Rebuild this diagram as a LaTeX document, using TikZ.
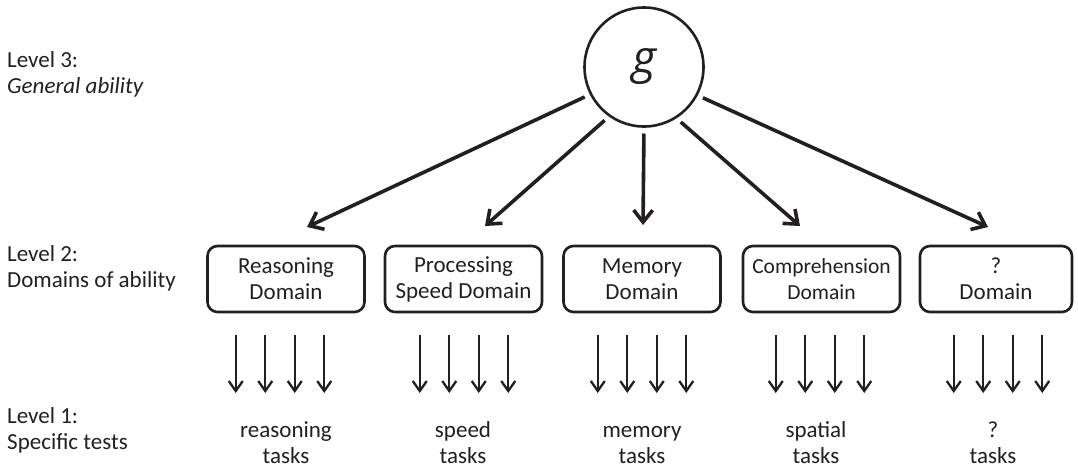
\documentclass[tikz,border=0pt]{standalone}
\usepackage{fontspec}
\setmainfont{Carlito}
\newfontfamily\gfont{Open Sans}
\usetikzlibrary{arrows.meta}
\definecolor{ink}{HTML}{231F20}
\tikzset{
  domainbox/.style={draw=ink, line width=2.6pt, rounded corners=10pt, minimum width=157pt, minimum height=66pt, inner sep=0pt, outer sep=0pt, align=center, text=ink, font=\fontsize{23}{26}\selectfont},
  bigarrow/.style={draw=ink, line width=3.6pt, -{Straight Barb[length=12pt,width=19pt]}, shorten <=7pt},
  smallarrow/.style={draw=ink, line width=2.3pt, -{Straight Barb[length=10pt,width=14pt]}},
  tasklabel/.style={align=center, inner sep=0pt, text=ink, font=\fontsize{23}{26}\selectfont},
  levellabel/.style={align=left, anchor=west, inner sep=0pt, text=ink, font=\fontsize{23}{26}\selectfont},
  gnode/.style={draw=ink, circle, line width=2.6pt, minimum size=119pt, inner sep=0pt, outer sep=0pt, text=ink, font=\fontsize{46}{55}\selectfont\gfont\itshape}
}
\begin{document}
\begin{tikzpicture}[x=1pt,y=-1pt]
\useasboundingbox (0,0) rectangle (1078,469);
% level labels
\node[levellabel] (l3) at (7,74.8) {\strut Level 3:\\\strut\itshape General ability};
\node[levellabel] (l2) at (7,268.8) {\strut Level 2:\\\strut Domains of ability};
\node[levellabel] (l1) at (7,430.8) {\strut Level 1:\\\strut Specific tests};
% g
\node[gnode] (g) at (644,67) {g};
% domain boxes
\node[domainbox] (b1) at (286,279) {Reasoning\\Domain};
\node[domainbox] (b2) at (463.5,279) {Processing\\Speed Domain};
\node[domainbox] (b3) at (642,279) {Memory\\Domain};
\node[domainbox, font=\fontsize{21.5}{26}\selectfont] (b4) at (821.5,279) {Comprehension\\Domain};
\node[domainbox, minimum width=152pt] (b5) at (996,279) {?\\Domain};
% arrow tips above boxes
\coordinate (t1) at (307,227);
\coordinate (t2) at (485,226);
\coordinate (t3) at (643,225);
\coordinate (t4) at (800,226);
\coordinate (t5) at (988,227);
\draw[bigarrow] (g.-153) -- (t1);
\draw[bigarrow] (g.-125) -- (t2);
\draw[bigarrow] (g.-90) -- (t3);
\draw[bigarrow] (g.-58) -- (t4);
\draw[bigarrow] (g.-28) -- (t5);
% small arrows
\foreach \c [count=\gi] in {280,464,642,820,998} {
  \foreach \d [count=\k] in {-44.25,-14.75,14.75,44.25} {
    \coordinate (u\gi\k) at (\c+\d,335);
    \coordinate (v\gi\k) at (\c+\d,393);
    \draw[smallarrow] (u\gi\k) -- (v\gi\k);
  }
}
% task labels
\node[tasklabel] (k1) at (286,444.8) {\strut reasoning\\\strut tasks};
\node[tasklabel] (k2) at (463,444.8) {\strut speed\\\strut tasks};
\node[tasklabel] (k3) at (642,444.8) {\strut memory\\\strut tasks};
\node[tasklabel] (k4) at (816,444.8) {\strut spatial\\\strut tasks};
\node[tasklabel] (k5) at (993,444.8) {\strut ?\\\strut tasks};
\end{tikzpicture}
\end{document}
